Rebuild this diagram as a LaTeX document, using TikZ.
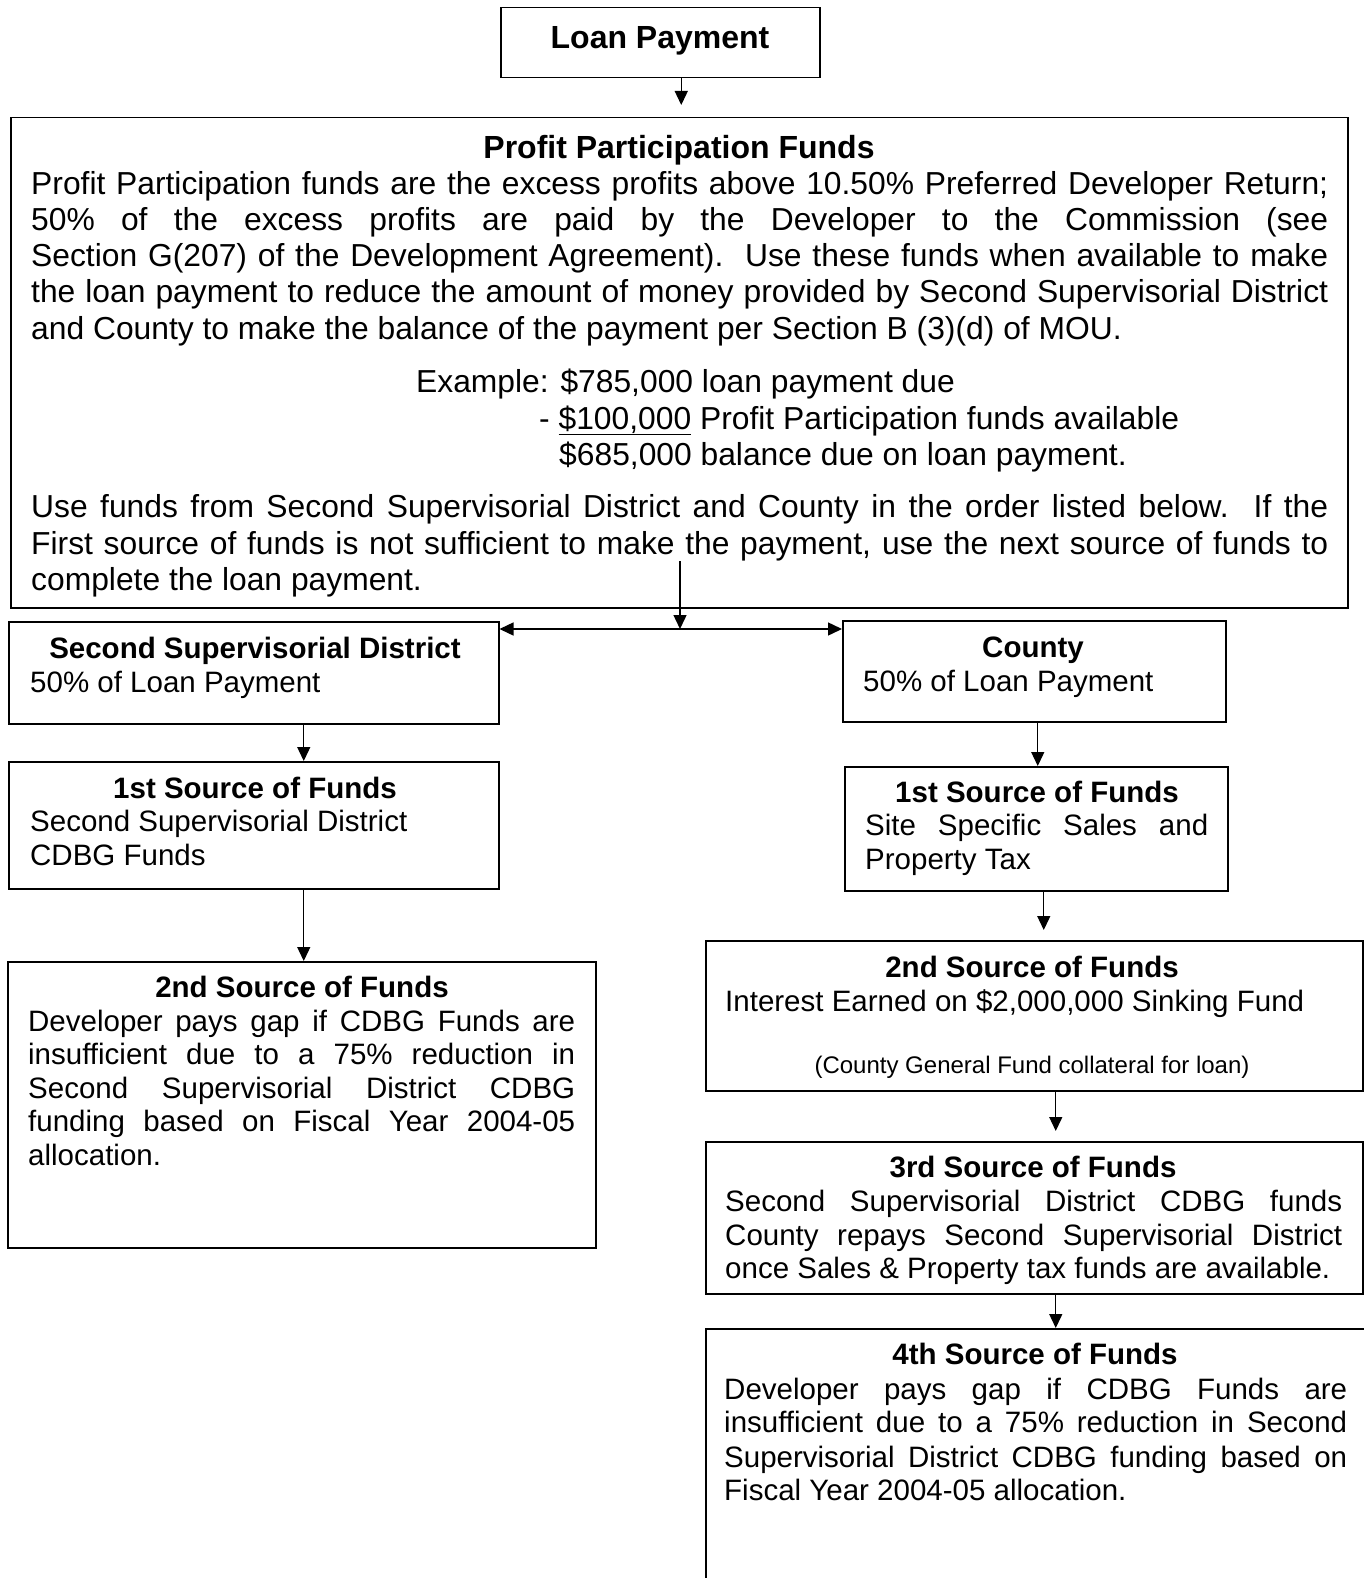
\documentclass[tikz,border=0pt]{standalone}
\usepackage{fontspec}
\setmainfont{Liberation Sans}
\usetikzlibrary{arrows.meta}
\newcounter{tln}
\def\curfont{\fontsize{29.5}{34}\selectfont}
\newcommand\lnL[3]{\stepcounter{tln}\node[txt,anchor=base west] (tl\arabic{tln}) at (#1,#2) {#3};}
\newcommand\lnJ[4]{\stepcounter{tln}\node[txt,anchor=base west] (tl\arabic{tln}) at (#1,#2) {\makebox[#3pt][s]{#4}};}
\newcommand\lnC[3]{\stepcounter{tln}\node[txt,anchor=base] (tl\arabic{tln}) at (#1,#2) {#3};}
\tikzset{
  box/.style={draw, line width=1.5pt, inner sep=0pt, anchor=north west},
  txt/.style={inner sep=0pt, font=\curfont},
  arr/.style={line width=1.4pt, -{Triangle[length=14pt,width=13pt]}},
  dblarr/.style={line width=1.4pt, {Triangle[length=14pt,width=13pt]}-{Triangle[length=14pt,width=13pt]}}
}
\begin{document}
\begin{tikzpicture}[x=1pt,y=-1pt]
\path[fill=white,use as bounding box] (0,0) rectangle (1364,1578);

% boxes
\node[box, minimum width=319pt, minimum height=70pt] (loan) at (500,7) {};
\node[box, minimum width=1337pt, minimum height=490pt] (profit) at (10,117) {};
\node[box, minimum width=490pt, minimum height=102pt] (ssd) at (8,621) {};
\node[box, minimum width=383pt, minimum height=101pt] (county) at (842,620) {};
\node[box, minimum width=490pt, minimum height=127pt] (l1) at (8,761) {};
\node[box, minimum width=588pt, minimum height=286pt] (l2) at (7,961) {};
\node[box, minimum width=383pt, minimum height=124pt] (r1) at (844,766) {};
\node[box, minimum width=657pt, minimum height=150pt] (r2) at (705,940) {};
\node[box, minimum width=657pt, minimum height=152pt] (r3) at (705,1141) {};
\node[box, minimum width=800pt, minimum height=400pt] (r4) at (705,1328) {};

% texts: loan payment
\lnC{660}{49}{\fontsize{32}{36}\selectfont\bfseries Loan Payment}

% profit box
\def\curfont{\fontsize{31.8}{36}\selectfont}
\lnC{679}{159}{\fontsize{32}{36}\selectfont\bfseries Profit Participation Funds}
\lnJ{31}{195}{1297}{Profit Participation funds are the excess profits above 10.50\% Preferred Developer Return;}
\lnJ{31}{231}{1297}{50\% of the excess profits are paid by the Developer to the Commission (see}
\lnJ{31}{267}{1297}{Section G(207) of the Development Agreement).\ \ Use these funds when available to make}
\lnJ{31}{303}{1297}{the loan payment to reduce the amount of money provided by Second Supervisorial District}
\lnL{31}{339}{and County to make the balance of the payment per Section B (3)(d) of MOU.}
\lnL{416}{392}{Example: \$785,000 loan payment due}
\lnL{539}{429}{- \underline{\$100,000} Profit Participation funds available}
\lnL{559}{465}{\$685,000 balance due on loan payment.}
\lnJ{31}{517}{1297}{Use funds from Second Supervisorial District and County in the order listed below.\ \ If the}
\lnJ{31}{554}{1297}{First source of funds is not sufficient to make the payment, use the next source of funds to}
\lnL{31}{590}{complete the loan payment.}

% smaller boxes
\def\curfont{\fontsize{29.5}{34}\selectfont}
\lnC{255}{658}{\bfseries Second Supervisorial District}
\lnL{30}{692}{50\% of Loan Payment}
\lnC{1033}{657}{\bfseries County}
\lnL{863}{691}{50\% of Loan Payment}

\lnC{255}{798}{\bfseries 1st Source of Funds}
\lnL{30}{831}{Second Supervisorial District}
\lnL{30}{865}{CDBG Funds}

\lnC{1037}{802}{\bfseries 1st Source of Funds}
\lnJ{865}{835}{343}{Site Specific Sales and}
\lnL{865}{869}{Property Tax}

\lnC{302}{997}{\bfseries 2nd Source of Funds}
\lnJ{28}{1031}{547}{Developer pays gap if CDBG Funds are}
\lnJ{28}{1064}{547}{insufficient due to a 75\% reduction in}
\lnJ{28}{1098}{547}{Second Supervisorial District CDBG}
\lnJ{28}{1131}{547}{funding based on Fiscal Year 2004-05}
\lnL{28}{1165}{allocation.}

\lnC{1032}{977}{\bfseries 2nd Source of Funds}
\lnL{725}{1011}{Interest Earned on \$2,000,000 Sinking Fund}
\lnC{1032}{1073}{\fontsize{24}{28}\selectfont (County General Fund collateral for loan)}

\lnC{1033}{1177}{\bfseries 3rd Source of Funds}
\lnJ{725}{1211}{617}{Second Supervisorial District CDBG funds}
\lnJ{725}{1245}{617}{County repays Second Supervisorial District}
\lnL{725}{1278}{once Sales \& Property tax funds are available.}

\lnC{1035}{1364}{\bfseries 4th Source of Funds}
\lnJ{724}{1399}{623}{Developer pays gap if CDBG Funds are}
\lnJ{724}{1432}{623}{insufficient due to a 75\% reduction in Second}
\lnJ{724}{1467}{623}{Supervisorial District CDBG funding based on}
\lnL{724}{1500}{Fiscal Year 2004-05 allocation.}

% connectors
\draw[arr, shorten >=12pt] ([xshift=21pt]loan.south) -- ([xshift=21pt]loan.south |- profit.north);
\coordinate (st) at (680,561);
\coordinate (sp) at (680,629);
\draw[arr] (st) -- (sp);
\draw[dblarr] (ssd.east |- sp) -- (county.west |- sp);
\draw[arr] ([xshift=50pt]ssd.south) -- ([xshift=50pt]ssd.south |- l1.north);
\draw[arr] ([xshift=50pt]l1.south) -- ([xshift=50pt]l1.south |- l2.north);
\draw[arr] ([xshift=3.5pt]county.south) -- ([xshift=3.5pt]county.south |- r1.north);
\draw[arr, shorten >=10pt] ([xshift=7.5pt]r1.south) -- ([xshift=7.5pt]r1.south |- r2.north);
\draw[arr, shorten >=10pt] ([xshift=21.5pt]r2.south) -- ([xshift=21.5pt]r2.south |- r3.north);
\draw[arr] ([xshift=21.5pt]r3.south) -- ([xshift=21.5pt]r3.south |- r4.north);
\end{tikzpicture}
\end{document}
